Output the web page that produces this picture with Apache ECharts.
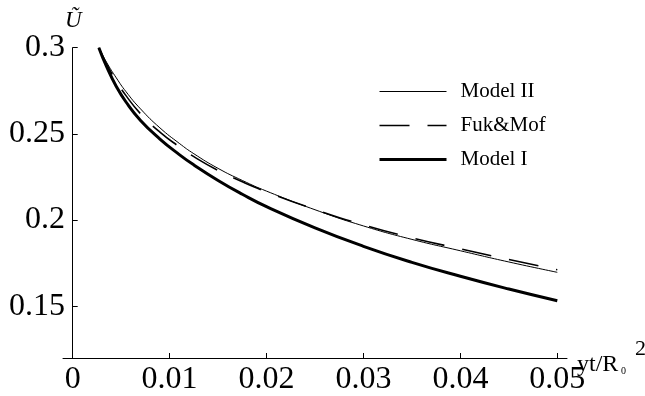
<!DOCTYPE html>
<html>
<head>
<meta charset="utf-8">
<script src="https://cdn.jsdelivr.net/npm/echarts@6/dist/echarts.min.js"></script>
<style>html,body{margin:0;padding:0;background:#fff}#c{width:645px;height:396px}</style>
</head>
<body>
<div id="c"></div>
<script>
var xValues = [0.0027, 0.0035, 0.0045, 0.0055, 0.007, 0.009, 0.011, 0.0125, 0.015, 0.0175, 0.02, 0.025, 0.03, 0.035, 0.04, 0.045, 0.05];
var modelII = [0.300, 0.2915, 0.2825, 0.2745, 0.2645, 0.2535, 0.2445, 0.2385, 0.2300, 0.2230, 0.2168, 0.2060, 0.1966, 0.1888, 0.1822, 0.1757, 0.1697];
var fukMof  = [0.300, 0.2905, 0.2808, 0.2722, 0.2617, 0.2510, 0.2425, 0.2368, 0.2288, 0.2222, 0.2164, 0.2062, 0.1972, 0.1897, 0.1833, 0.1771, 0.1712];
var modelI  = [0.300, 0.2890, 0.2775, 0.2685, 0.2578, 0.2470, 0.2380, 0.2320, 0.2230, 0.2150, 0.2078, 0.1955, 0.1848, 0.1755, 0.1674, 0.1600, 0.1532];
var seriesNames = ['Model II', 'Fuk&Mof', 'Model I'];
var xTicks = [0, 0.01, 0.02, 0.03, 0.04, 0.05];
var xTickLabels = ['0', '0.01', '0.02', '0.03', '0.04', '0.05'];
var yTicks = [0.15, 0.2, 0.25, 0.3];
var yTickLabels = ['0.15', '0.2', '0.25', '0.3'];

function pairs(ys) { return xValues.map(function (x, i) { return [x, ys[i]]; }); }
function labelFor(ticks, labels) {
  return function (v) {
    for (var i = 0; i < ticks.length; i++) if (Math.abs(ticks[i] - v) < 1e-9) return labels[i];
    return '';
  };
}
var serif = 'Liberation Serif';
var lineStyles = [
  { color: '#000', width: 1, type: 'solid' },
  { color: '#000', width: 1.6, type: [30, 18] },
  { color: '#000', width: 3, type: 'solid' }
];
var chart = echarts.init(document.getElementById('c'), null, { renderer: 'canvas' });
chart.setOption({
  animation: false,
  backgroundColor: '#fff',
  grid: { left: 63, right: 78, top: 47.7, bottom: 37, containLabel: false },
  xAxis: {
    type: 'value', min: -0.001, max: 0.051,
    splitLine: { show: false },
    axisLine: { lineStyle: { color: '#000', width: 1 } },
    axisTick: { inside: true, length: 5, customValues: xTicks, lineStyle: { color: '#000' } },
    axisLabel: { customValues: xTicks, formatter: labelFor(xTicks, xTickLabels), color: '#000', fontFamily: serif, fontSize: 32, margin: 6 }
  },
  yAxis: {
    type: 'value', min: 0.12, max: 0.3,
    splitLine: { show: false },
    axisLine: { onZero: true, lineStyle: { color: '#000', width: 1 } },
    axisTick: { inside: true, length: 5, customValues: yTicks, lineStyle: { color: '#000' } },
    axisLabel: { customValues: yTicks, formatter: labelFor(yTicks, yTickLabels), color: '#000', fontFamily: serif, fontSize: 32, margin: -2 }
  },
  legend: {
    orient: 'vertical', left: 373, top: 76,
    itemWidth: 67, itemHeight: 21, itemGap: 13,
    data: seriesNames.map(function (n, i) { return { name: n, lineStyle: lineStyles[i] }; }),
    itemStyle: { opacity: 0 },
    textStyle: { fontFamily: serif, fontSize: 21, color: '#000', padding: [0, 0, 0, 9] }
  },
  graphic: [
    { type: 'text', left: 65, top: 9, style: { text: 'Ũ', font: 'italic 23px "Liberation Serif"', fill: '#000' } },
    { type: 'text', left: 577, top: 353, style: { text: 'yt/R', font: '24px "Liberation Serif"', fill: '#000' } },
    { type: 'text', left: 621, top: 366, style: { text: '0', font: '10px "Liberation Serif"', fill: '#000' } },
    { type: 'text', left: 635, top: 338, style: { text: '2', font: '22px "Liberation Serif"', fill: '#000' } }
  ],
  series: [
    { name: seriesNames[0], type: 'line', data: pairs(modelII), symbol: 'none', smooth: true,
      lineStyle: lineStyles[0], itemStyle: { color: '#000' } },
    { name: seriesNames[1], type: 'line', data: pairs(fukMof), symbol: 'none', smooth: true,
      lineStyle: lineStyles[1], itemStyle: { color: '#000' } },
    { name: seriesNames[2], type: 'line', data: pairs(modelI), symbol: 'none', smooth: true,
      lineStyle: lineStyles[2], itemStyle: { color: '#000' } }
  ]
});
</script>
</body>
</html>
